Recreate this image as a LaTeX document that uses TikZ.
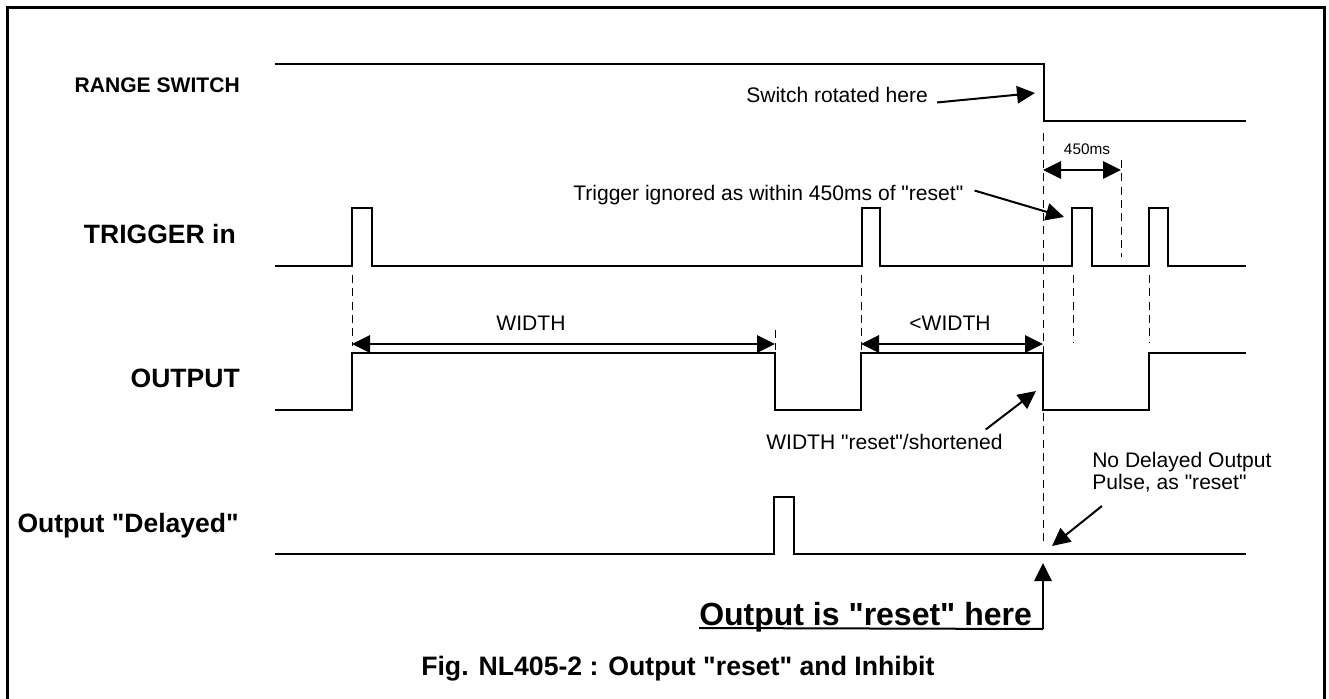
\documentclass[tikz,border=0pt]{standalone}
\usepackage{fontspec}
\setmainfont{Liberation Sans}[Ligatures=TeXOff]
\usetikzlibrary{arrows.meta, positioning}
\tikzset{>=stealth}

\begin{document}
\begin{tikzpicture}[
  x=0.75pt, y=-0.75pt,
  wave/.style={
    line width=2pt,
    line join=miter
  },
  guide/.style={
    line width=0.75pt,
    dash pattern=on 6pt off 4pt
  },
  arr/.style={
    line width=1.5pt,
    -{Triangle[length=13.5pt,width=13pt]}
  },
  dim/.style={
    line width=1.8pt,
    {Triangle[length=13.5pt,width=13pt]}-{Triangle[length=13.5pt,width=13pt]}
  },
  siglabel/.style={
    font=\bfseries\fontsize{19.9}{22}\selectfont,
    anchor=base east,
    inner sep=0pt
  },
  note/.style={
    font=\fontsize{15.8}{15.8}\selectfont,
    anchor=base west,
    inner sep=0pt,
    align=left
  }
]
\useasboundingbox (0,0) rectangle (1329,699);

%the frame
\draw[line width=2.2pt] (7.3,699) -- (7.3,7.3) -- (1324.5,7.3) -- (1324.5,699);

%the signal names
\node[siglabel, font=\bfseries\fontsize{15.8}{18}\selectfont] (rangelbl) at (240,93) {RANGE SWITCH};
\node[siglabel] (triglbl) at (236,243) {TRIGGER in};
\node[siglabel] (outlbl) at (240,387) {OUTPUT};
\node[siglabel] (dellbl) at (239,532) {Output "Delayed"};

%the signals
\draw[wave] (275,64) -| (1044,121) -- (1246,121);
\draw[wave] (275,266) -| (352,208) -| (372,266) -| (862,208) -| (880,266)
  -| (1072,208) -| (1092,266) -| (1149,208) -| (1168,266) -- (1246,266);
\draw[wave] (275,410) -| (352,353) -| (775,410) -| (861,353) -| (1043,410)
  -| (1149,353) -- (1246,353);
\draw[wave] (275,554) -| (774,497) -| (794,554) -- (1246,554);

%the dashed guides
\draw[guide] (352,275) -- (352,346);
\draw[guide] (775,330) -- (775,350);
\draw[guide] (861,275) -- (861,350);
\draw[guide] (1043,133) -- (1043,546);
\draw[guide] (1073,275) -- (1073,343);
\draw[guide] (1121,160) -- (1121,257);
\draw[guide] (1149,275) -- (1149,343);

%the widths
\coordinate (wa) at (352,344);
\coordinate (wb) at (775,344);
\coordinate (wc) at (861,344);
\coordinate (wd) at (1043,344);
\coordinate (ma) at (1043,170);
\coordinate (mb) at (1121,170);
\draw[dim] (wa) -- (wb);
\draw[dim] (wc) -- (wd);
\draw[dim] (ma) -- (mb);
\node[note, anchor=base] (widthlbl) at (531,330) {WIDTH};
\node[note, anchor=base] (shortlbl) at (950,330) {<WIDTH};
\node[note, anchor=base, font=\fontsize{11.5}{12}\selectfont] (mslbl) at (1087,155) {450ms};

%the notes
\node[note] (switchtxt) at (746,103) {Switch rotated here};
\node[note] (ignoretxt) at (573,200) {Trigger ignored as within 450ms of "reset"};
\node[note] (resettxt) at (766,449) {WIDTH "reset"/shortened};
\node[note] (nodeltxt) at (1092,489) {No Delayed Output\\Pulse, as "reset"};
\coordinate (swtip) at (1035,93);
\coordinate (igtip) at (1064,217);
\coordinate (retip) at (1036,391);
\coordinate (ndtip) at (1052,546);
\draw[arr] ([shift={(9,7)}]switchtxt.east) -- (swtip);
\draw[arr] ([shift={(11,-4)}]ignoretxt.east) -- (igtip);
\draw[arr] ([shift={(-17,-4)}]resettxt.north east) -- (retip);
\draw[arr] ([shift={(10,14)}]nodeltxt.south west) -- (ndtip);

%the reset point
\node[note, font=\bfseries\fontsize{24}{26}\selectfont] (outreset) at (699,625) {Output is "reset" here};
\coordinate (rsfoot) at (1043,629);
\coordinate (rstip) at (1043,563);
\draw[line width=1.5pt] ([shift={(0,3)}]outreset.base west) -- (rsfoot);
\draw[arr, line width=1.8pt] (rsfoot) -- (rstip);

%the caption
\node[note, font=\bfseries\fontsize{20}{22}\selectfont] (caption) at (421,675) {Fig. NL405-2 : Output "reset" and Inhibit};

\end{tikzpicture}
\end{document}
